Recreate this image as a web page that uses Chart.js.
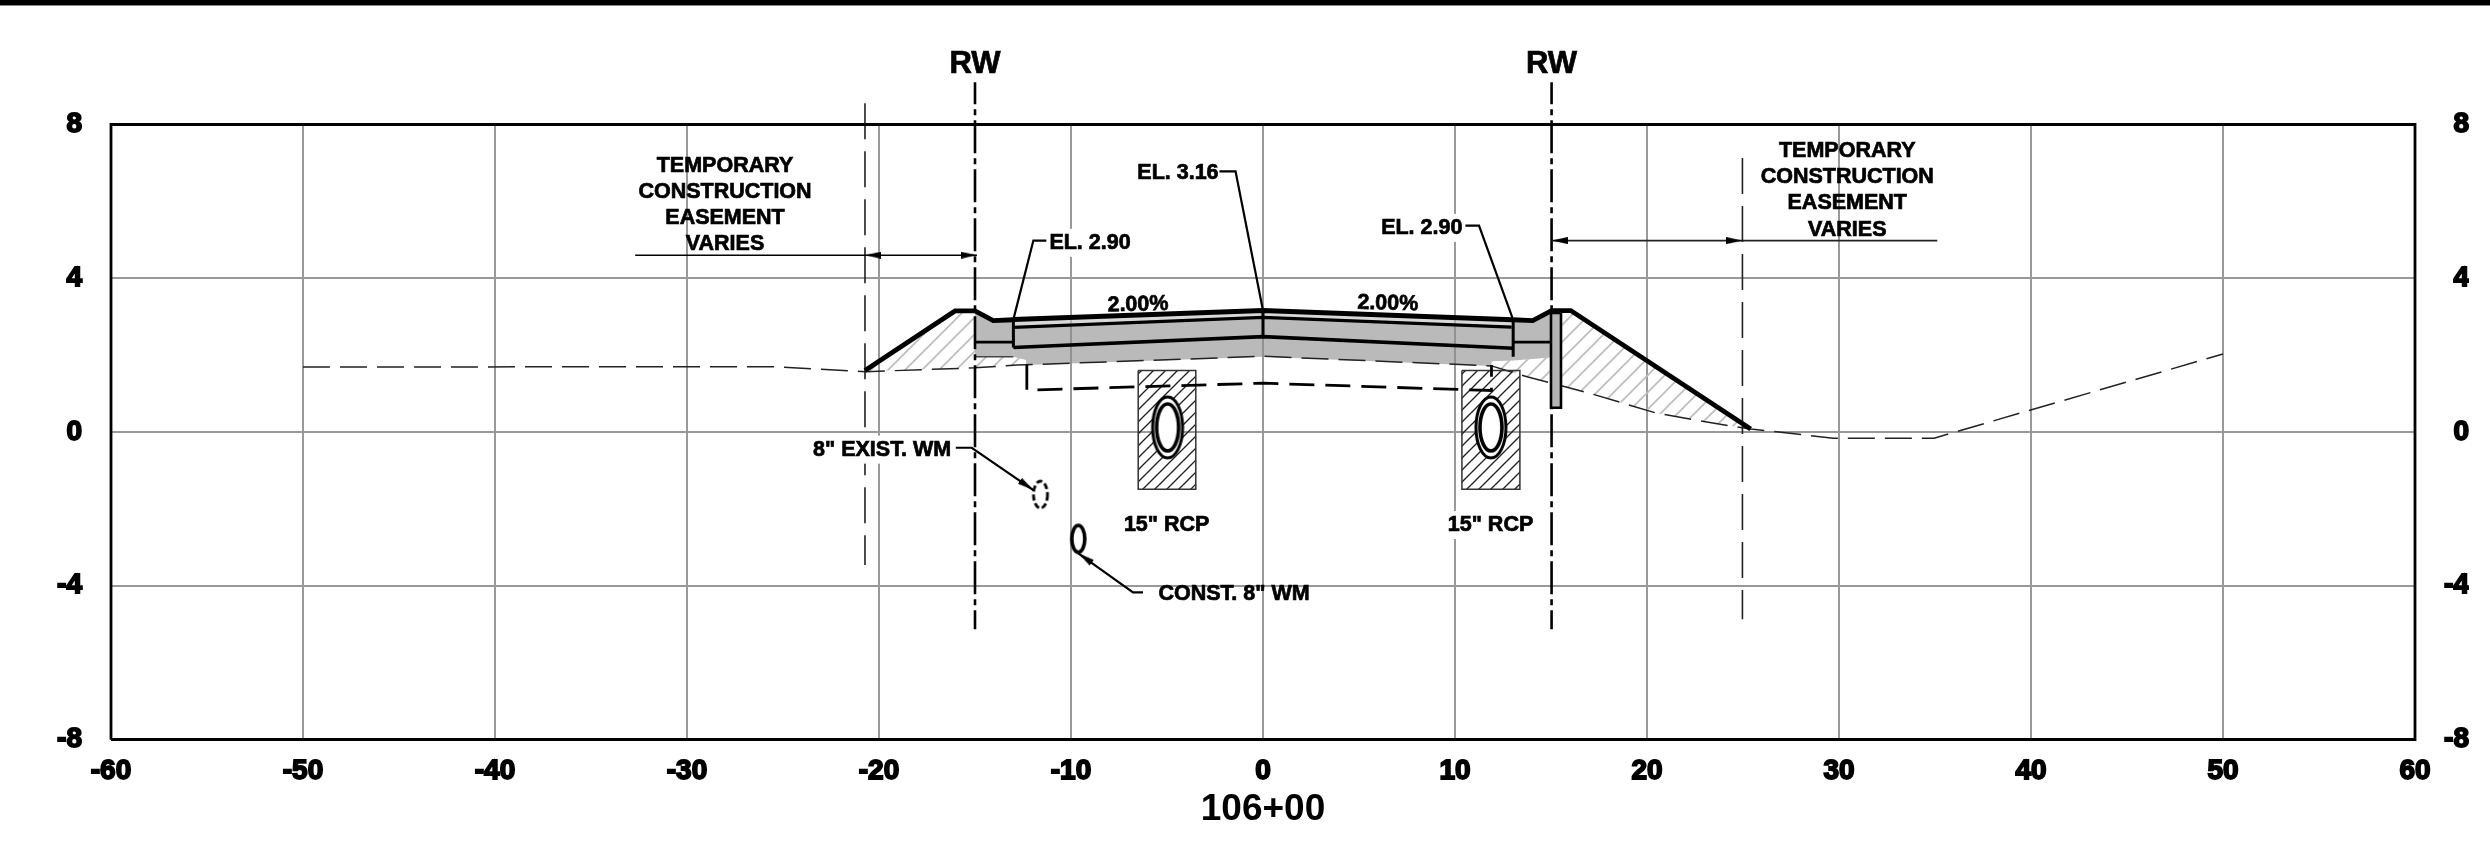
<!DOCTYPE html>
<html>
<head>
<meta charset="utf-8">
<title>106+00</title>
<script src="https://cdn.jsdelivr.net/npm/chart.js@4/dist/chart.umd.js"></script>
<style>
  html, body { margin: 0; padding: 0; background: #fff; overflow: hidden; }
  #bar { position: absolute; left: 0; top: 0; width: 100%; height: 5px; background: #000; border-bottom: 1px solid #888; }
  canvas { display: block; }
</style>
</head>
<body>
<div id="bar"></div>
<canvas id="myChart" width="2490" height="855"></canvas>
<script>
// axis ticks
const xTicks = [-60, -50, -40, -30, -20, -10, 0, 10, 20, 30, 40, 50, 60];
const yTicks = [-8, -4, 0, 4, 8];
const stationLabel = "106+00";

// section lines, [offset, elevation]
const frame = [[-60, -8], [60, -8], [60, 8], [-60, 8], [-60, -8]];
const existingGround = [[-50, 1.69], [-25.5, 1.7], [-20.7, 1.57], [-15, 1.67], [-12.8, 1.74], [0, 1.97], [11.9, 1.72], [13.8, 1.43], [17, 1.01], [20.5, 0.49], [24.3, 0.16], [25.4, 0.08], [29.7, -0.16], [34.95, -0.16], [50, 2.03]];
const leftSlope = [[-20.73, 1.6], [-16.04, 3.15], [-15, 3.15], [-14.05, 2.9], [-13, 2.92]];
const rightSlope = [[13.03, 2.92], [14.05, 2.9], [15.03, 3.16], [16.03, 3.16], [25.4, 0.08]];
const roadTop = [[-13, 2.93], [0, 3.16], [13, 2.92]];
const roadSecond = [[-13, 2.72], [0, 2.98], [12.95, 2.73]];
const roadBase = [[-13, 2.2], [0, 2.48], [13.03, 2.18]];
const curbLeftLine = [[-15, 2.34], [-13, 2.34]];
const curbRightLine = [[13.03, 2.34], [15, 2.34]];
const curbLeftUnder = [[-15, 1.96], [-13, 1.96]];
const jointLeft = [[-13, 2.93], [-13, 2.2]];
const jointCentre = [[0, 3.16], [0, 2.48]];
const jointRight = [[13.03, 2.92], [13.03, 1.96]];
const stormLine = [[-12.3, 1.75], [-12.3, 1.09], [0, 1.27], [11.9, 1.08], [11.9, 1.74]];

// filled areas
const pavementFill = [[-13, 2.72], [0, 2.98], [13, 2.73], [13.03, 1.86], [11.9, 1.84], [11.9, 1.72], [0, 1.96], [-12.3, 1.74], [-12.34, 1.875], [-13, 1.96], [-13, 2.72]];
const surfaceFill = [[-13, 2.93], [0, 3.16], [13, 2.92], [13, 2.73], [0, 2.98], [-13, 2.72], [-13, 2.93]];
const curbLeftFill = [[-15, 3.15], [-14.05, 2.9], [-13, 2.9], [-13, 1.96], [-15, 1.96], [-15, 3.15]];
const curbRightFill = [[13.03, 2.9], [14.05, 2.9], [15, 3.16], [15, 1.94], [13.03, 1.86], [13.03, 2.9]];
const fillLeft = [[-20.7, 1.6], [-16.04, 3.15], [-15, 3.15], [-15, 1.96], [-13, 1.96], [-12.3, 1.87], [-12.8, 1.74], [-15, 1.67], [-20.7, 1.58], [-20.7, 1.6]];
const fillRight = [[11.9, 1.84], [13.03, 1.86], [15, 1.94], [15, 3.16], [16.03, 3.16], [25.4, 0.08], [24.3, 0.16], [20.5, 0.49], [17, 1.01], [13.8, 1.43], [11.9, 1.72], [11.9, 1.84]];
const sheetPile = [[15, 3.1], [15.52, 3.1], [15.52, 0.63], [15, 0.63], [15, 3.1]];
const pipeBoxLeft = [[-6.5, 1.6], [-3.5, 1.6], [-3.5, -1.49], [-6.5, -1.49], [-6.5, 1.6]];
const pipeBoxRight = [[10.36, 1.6], [13.38, 1.6], [13.38, -1.49], [10.36, -1.49], [10.36, 1.6]];

// pipes
const rcpCentres = [[-4.97, 0.12], [11.87, 0.12]];
const existWm = [[-11.59, -1.63]];
const constWm = [[-9.62, -2.78]];

// right of way and easement lines
const rwLeft = [[-15, 9.1], [-15, -5.13]];
const rwRight = [[15.03, 9.1], [15.03, -5.13]];
const easeLeft = [[-20.73, 8.55], [-20.73, -3.46]];
const easeRight = [[24.97, 7.13], [24.97, -4.87]];
const dimLeft = [[-32.7, 4.6], [-14.9, 4.6]];
const dimRight = [[15.03, 4.98], [35.12, 4.98]];

// leaders
const leader316 = [[-2.27, 6.78], [-1.43, 6.78], [0, 3.16]];
const leader290L = [[-11.1, 4.98], [-11.96, 4.98], [-13, 2.93]];
const leader290R = [[10.43, 5.37], [11.25, 5.37], [13.03, 2.92]];
const leaderExist = [[-16, -0.41], [-15.17, -0.41], [-11.96, -1.51]];
const leaderConst = [[-6.25, -4.17], [-6.77, -4.17], [-9.62, -3.16]];
const arrowPoints = [[-20.31, 4.6], [-15.32, 4.6], [15.45, 4.98], [24.55, 4.98], [-12.31, -1.39], [-9.26, -3.28]];
const arrowAngles = [180, 0, 180, 0, 34.5, 215.8];

// text on the drawing, [text, offset, elevation]
const rwLabels = [["RW", -15, 9.6], ["RW", 15.03, 9.6]];
const plainLabels = [
  ["EL. 3.16", -4.43, 6.77],
  ["TEMPORARY", -28.02, 6.95], ["CONSTRUCTION", -28.02, 6.27], ["EASEMENT", -28.02, 5.6], ["VARIES", -28.02, 4.94],
  ["TEMPORARY", 30.43, 7.34], ["CONSTRUCTION", 30.43, 6.66], ["EASEMENT", 30.43, 6.0], ["VARIES", 30.43, 5.3],
  ['CONST. 8" WM', -1.51, -4.17]
];
const maskedLabels = [
  ["EL. 2.90", -9.01, 4.96], ["EL. 2.90", 8.27, 5.35],
  ['8" EXIST. WM', -19.84, -0.42],
  ['15" RCP', -5.02, -2.38], ['15" RCP', 11.85, -2.38]
];
const slopeLabels = [["2.00%", -6.51, 3.35], ["2.00%", 6.5, 3.38]];

const FONT = '"Liberation Sans", Arial, sans-serif';

function hatch(size, color, width) {
  const c = document.createElement("canvas");
  c.width = size;
  c.height = size;
  const g = c.getContext("2d");
  g.strokeStyle = color;
  g.lineWidth = width;
  [[0, size, size, 0], [-size, size, size, -size], [0, 2 * size, 2 * size, 0]].forEach((s) => {
    g.beginPath();
    g.moveTo(s[0], s[1]);
    g.lineTo(s[2], s[3]);
    g.stroke();
  });
  return g.createPattern(c, "repeat");
}

function ovalSprite(w, h, rings, dash) {
  const c = document.createElement("canvas");
  c.width = w + 4;
  c.height = h + 4;
  const g = c.getContext("2d");
  g.strokeStyle = "#000";
  g.fillStyle = "#fff";
  g.setLineDash(dash || []);
  rings.forEach((r) => {
    g.lineWidth = r.lw;
    g.beginPath();
    g.ellipse(c.width / 2, c.height / 2, r.w / 2, r.h / 2, 0, 0, Math.PI * 2);
    g.fill();
    g.stroke();
  });
  return c;
}

function arrowSprite() {
  const c = document.createElement("canvas");
  c.width = 16;
  c.height = 7;
  const g = c.getContext("2d");
  g.fillStyle = "#000";
  g.beginPath();
  g.moveTo(16, 3.5);
  g.lineTo(0, 0);
  g.lineTo(0, 7);
  g.closePath();
  g.fill();
  return c;
}

function stroke(data, color, width, dash, dashOffset) {
  return {
    data: data, showLine: true, borderColor: color, borderWidth: width, borderDash: dash || [],
    borderDashOffset: dashOffset || 0, pointRadius: 0, fill: false, clip: false,
    borderJoinStyle: "miter", backgroundColor: "transparent"
  };
}

function area(data, color, edge, edgeWidth) {
  return {
    data: data, showLine: true, fill: "shape", backgroundColor: color, borderColor: edge || "transparent",
    borderWidth: edgeWidth || 0, pointRadius: 0, clip: false, borderJoinStyle: "miter"
  };
}

function marks(data, sprite, angles) {
  return {
    data: data, showLine: false, pointStyle: sprite, pointRadius: 10, pointRotation: angles || 0,
    clip: false, borderColor: "#000", backgroundColor: "#000"
  };
}

function buildDatasets() {
  const gray = "rgba(140,140,140,0.6)";
  const light = "rgba(190,190,190,0.6)";
  const hatchGray = hatch(17, "#bdbdbd", 1.7);
  const hatchBlack = hatch(12, "#222", 1.3);
  // painter's order, first one ends up at the bottom
  const list = [
    area(fillLeft, hatchGray),
    area(fillRight, hatchGray),
    area(pavementFill, gray),
    area(surfaceFill, light),
    area(curbLeftFill, gray),
    area(curbRightFill, gray),
    stroke(existingGround, "#222", 1.5, [27, 10]),
    area(pipeBoxLeft, hatchBlack, "#333", 1.5),
    area(pipeBoxRight, hatchBlack, "#333", 1.5),
    stroke(stormLine, "#000", 2.8, [25, 11]),
    stroke(curbLeftUnder, "#444", 1.5),
    stroke(curbLeftLine, "#000", 2.8),
    stroke(curbRightLine, "#000", 2.8),
    stroke(roadSecond, "#000", 3.2),
    stroke(roadBase, "#000", 3.6),
    stroke(jointLeft, "#000", 3),
    stroke(jointCentre, "#000", 3),
    stroke(jointRight, "#000", 3),
    stroke(easeLeft, "#222", 1.6, [36, 12]),
    stroke(easeRight, "#222", 1.6, [36, 12]),
    stroke(rwLeft, "#000", 2.6, [33, 5, 6, 5], 11),
    stroke(rwRight, "#000", 2.6, [33, 5, 6, 5], 11),
    area(sheetPile, "#b4b4b4", "#000", 2.6),
    stroke(leftSlope, "#000", 4.8),
    stroke(rightSlope, "#000", 4.8),
    stroke(roadTop, "#000", 5),
    stroke(dimLeft, "#000", 1.6),
    stroke(dimRight, "#222", 1.6),
    stroke(leader316, "#000", 2.2),
    stroke(leader290L, "#000", 2.2),
    stroke(leader290R, "#000", 2.2),
    stroke(leaderExist, "#000", 2.2),
    stroke(leaderConst, "#000", 2.2),
    marks(rcpCentres, ovalSprite(32, 63, [{ w: 30, h: 61, lw: 3 }, { w: 22, h: 47, lw: 3.6 }])),
    marks(existWm, ovalSprite(16, 29, [{ w: 14, h: 27, lw: 2.8 }], [6, 3])),
    marks(constWm, ovalSprite(15, 29, [{ w: 13, h: 27, lw: 3.6 }])),
    marks(arrowPoints, arrowSprite(), arrowAngles),
    stroke(frame, "#000", 2.8)
  ];
  list.forEach((d, i) => { d.order = list.length - i; });
  return list;
}

const drawingText = {
  id: "drawingText",
  afterDatasetsDraw(chart) {
    const ctx = chart.ctx;
    const px = (l) => [chart.scales.x.getPixelForValue(l[1]), chart.scales.y.getPixelForValue(l[2]) + 1.5];
    ctx.save();
    ctx.fillStyle = "#000";
    ctx.strokeStyle = "#000";
    ctx.textAlign = "center";
    ctx.textBaseline = "middle";
    ctx.lineWidth = 0.7;
    ctx.font = "bold 21.5px " + FONT;
    maskedLabels.forEach((l) => {
      const p = px(l);
      const w = ctx.measureText(l[0]).width;
      ctx.fillStyle = "#fff";
      ctx.fillRect(p[0] - w / 2 - 3, p[1] - 14, w + 6, 28);
      ctx.fillStyle = "#000";
    });
    plainLabels.concat(maskedLabels).forEach((l) => {
      const p = px(l);
      ctx.fillText(l[0], p[0], p[1]);
      ctx.strokeText(l[0], p[0], p[1]);
    });
    slopeLabels.forEach((l) => {
      const p = px(l);
      ctx.save();
      ctx.translate(p[0], p[1]);
      ctx.rotate((l[1] < 0 ? -1 : 1) * 0.025);
      ctx.fillText(l[0], 0, 0);
      ctx.strokeText(l[0], 0, 0);
      ctx.restore();
    });
    ctx.font = "bold 31px " + FONT;
    rwLabels.forEach((l) => {
      const p = px(l);
      ctx.fillText(l[0], p[0], p[1]);
      ctx.strokeText(l[0], p[0], p[1]);
    });
    ctx.restore();
  }
};

function tickFont() {
  return { family: FONT, size: 28, weight: "bold" };
}

new Chart(document.getElementById("myChart"), {
  type: "scatter",
  data: { datasets: buildDatasets() },
  plugins: [drawingText],
  options: {
    responsive: false,
    devicePixelRatio: 1,
    animation: false,
    events: [],
    layout: { padding: { top: 124.5, left: 0, right: 21, bottom: 0 } },
    plugins: { legend: { display: false }, tooltip: { enabled: false } },
    scales: {
      x: {
        type: "linear", position: "bottom", min: xTicks[0], max: xTicks[xTicks.length - 1],
        afterBuildTicks: (s) => { s.ticks = xTicks.map((v) => ({ value: v })); },
        afterFit: (s) => { s.height = 115.5; },
        grid: { color: "#999", lineWidth: 2, drawTicks: false },
        border: { display: false },
        ticks: {
          font: tickFont(), color: "#000", padding: 15, maxRotation: 0, autoSkip: false,
          textStrokeColor: "#000", textStrokeWidth: 1.8
        },
        title: {
          display: true, text: stationLabel, color: "#000",
          font: { family: FONT, size: 37, weight: "bold" }, padding: { top: 0, bottom: 23 }
        }
      },
      y: {
        type: "linear", position: "left", min: yTicks[0], max: yTicks[yTicks.length - 1],
        afterBuildTicks: (s) => { s.ticks = yTicks.map((v) => ({ value: v })); },
        afterFit: (s) => { s.width = 111; },
        grid: { color: "#999", lineWidth: 2, drawTicks: false },
        border: { display: false },
        ticks: {
          font: tickFont(), color: "#000", padding: 29,
          textStrokeColor: "#000", textStrokeWidth: 1.8
        }
      },
      yRight: {
        type: "linear", position: "right", min: yTicks[0], max: yTicks[yTicks.length - 1],
        afterBuildTicks: (s) => { s.ticks = yTicks.map((v) => ({ value: v })); },
        afterFit: (s) => { s.width = 54; },
        grid: { display: false, drawTicks: false },
        border: { display: false },
        ticks: {
          font: tickFont(), color: "#000", padding: 4, crossAlign: "far",
          textStrokeColor: "#000", textStrokeWidth: 1.8
        }
      }
    }
  }
});
</script>
</body>
</html>
